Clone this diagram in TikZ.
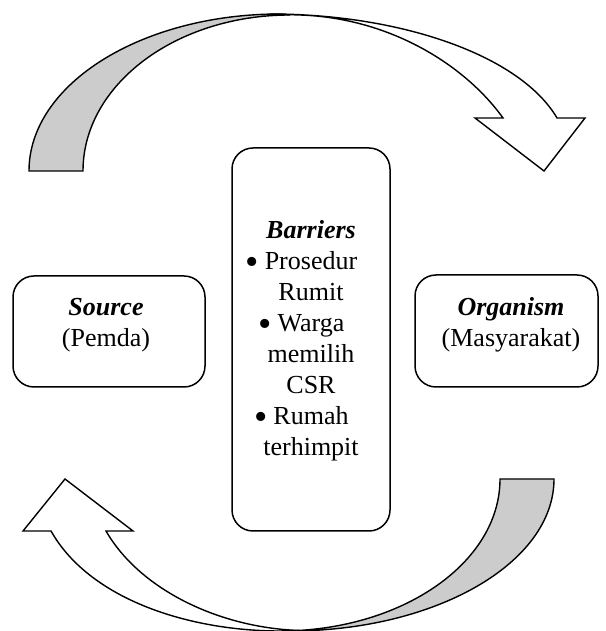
\documentclass[tikz,border=0pt]{standalone}
\usepackage{fontspec}
\setmainfont{Liberation Serif}
\tikzset{
  box/.style={draw=black, line width=1.5pt, rounded corners=21pt, inner sep=0pt},
  band/.style={draw=black, line width=1.4pt, line join=miter},
  backband/.style={band, fill=gray!40},
  frontband/.style={band, fill=white},
  txt/.style={anchor=base, inner sep=0pt, font=\fontsize{26}{31}\selectfont},
}
\newcommand{\bul}{\llap{{\fontsize{38}{38}\selectfont\raisebox{-4.5pt}{\textbullet}}\hspace{6pt}}}
\begin{document}
\begin{tikzpicture}[x=1pt,y=1pt]
\useasboundingbox (0,0) rectangle (605,631);
\clip (0,0) rectangle (605,631);
\fill[white] (0,0) rectangle (605,631);
% top curved arrow (back part, then front part)
\path[backband] (29,460) arc[start angle=180,end angle=90,x radius=251,y radius=157]
  -- (290,616) arc[start angle=90,end angle=180,x radius=207,y radius=156] -- cycle;
\path[frontband] (270,617) .. controls (400,617) and (520,576) .. (557,513)
  -- (585,513) -- (544,460) -- (475,513) -- (503,513)
  .. controls (465,566) and (390,613) .. (300,616) -- cycle;
% bottom curved arrow
\path[backband] (554,152) arc[start angle=0,end angle=-90,x radius=264,y radius=152]
  -- (280,0) arc[start angle=-90,end angle=0,x radius=220,y radius=152] -- cycle;
\path[frontband] (51,100) .. controls (90,31) and (190,0) .. (280,0)
  -- (300,0.5) .. controls (220,3) and (140,41) .. (106,100)
  -- (133,100) -- (65,152) -- (23,100) -- cycle;
% boxes
\node[box, minimum width=192pt, minimum height=111pt] (src) at (109,299.5) {};
\node[box, minimum width=183pt, minimum height=112pt] (org) at (506.5,300) {};
\node[box, minimum width=158pt, minimum height=383pt] (bar) at (311,291.5) {};
% texts
\node[txt] (srcA) at (106,315) {\textbf{\textit{Source}}};
\node[txt] (srcB) at (106,284) {(Pemda)};
\node[txt] (orgA) at (511,315) {\textbf{\textit{Organism}}};
\node[txt] (orgB) at (511,284) {(Masyarakat)};
\node[txt] (b0) at (311,392) {\textbf{\textit{Barriers}}};
\node[txt] (b1) at (311,361) {\bul Prosedur};
\node[txt] (b2) at (311,330) {Rumit};
\node[txt] (b3) at (311,299) {\bul Warga};
\node[txt] (b4) at (311,268) {memilih};
\node[txt] (b5) at (311,237) {CSR};
\node[txt] (b6) at (311,206) {\bul Rumah};
\node[txt] (b7) at (311,175) {terhimpit};
\end{tikzpicture}
\end{document}
